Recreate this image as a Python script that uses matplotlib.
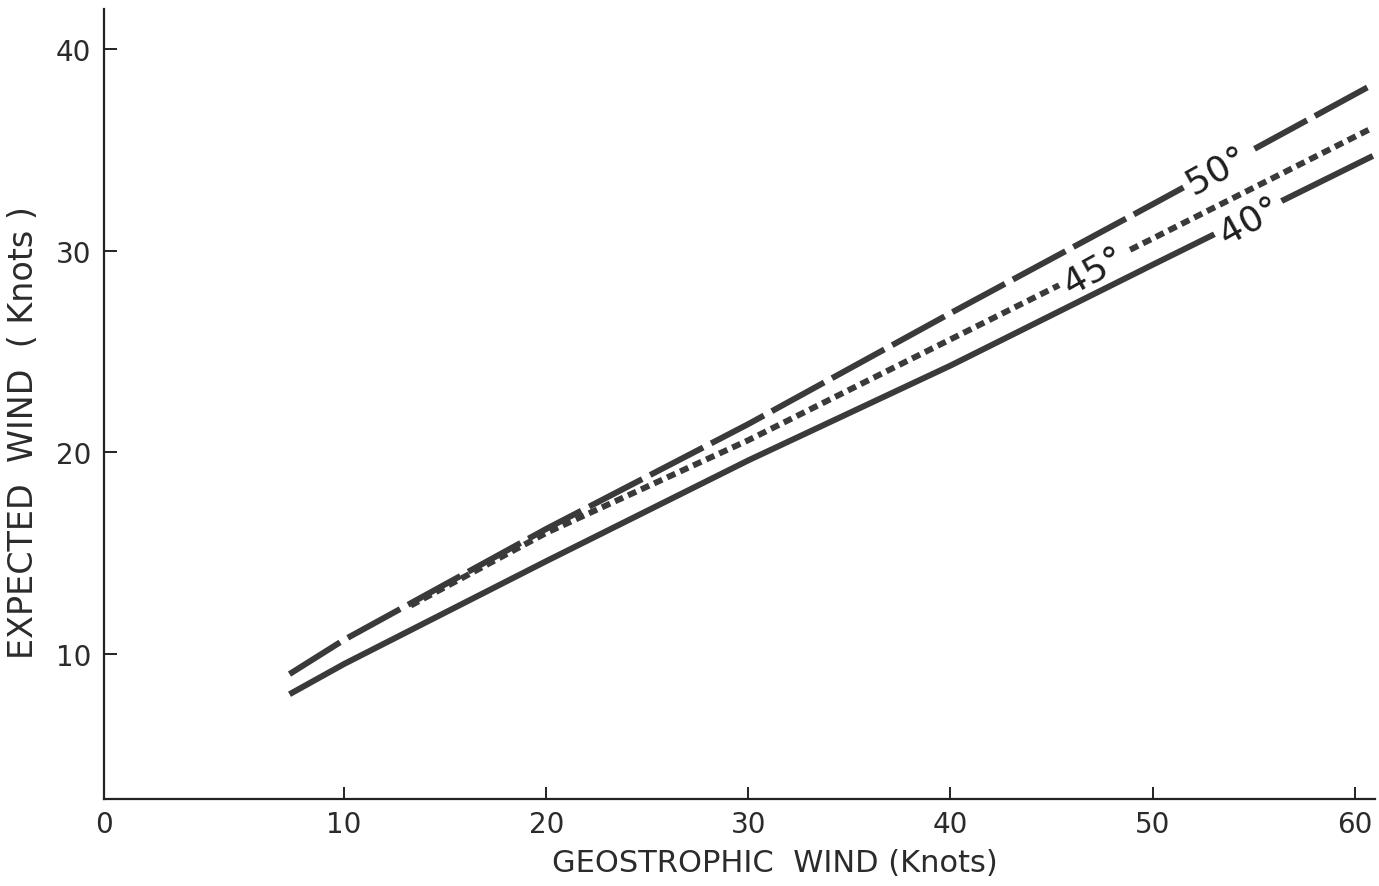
import matplotlib.pyplot as plt

# values (knots)
geo_50 = [7.3, 10, 20, 30, 40, 50, 61.0]
wind_50 = [9.0, 10.7, 16.2, 21.4, 26.9, 32.3, 38.3]

geo_45 = [13.3, 20, 30, 40, 50, 60.7]
wind_45 = [12.4, 16.0, 20.6, 25.6, 30.6, 36.0]

geo_40 = [7.3, 10, 20, 30, 40, 50, 60.9]
wind_40 = [8.0, 9.5, 14.6, 19.6, 24.3, 29.3, 34.7]

x_ticks = [10, 20, 30, 40, 50, 60]
y_ticks = [10, 20, 30, 40]

plt.rcParams['font.family'] = ['DejaVu Sans']
ink = '#3a3a3a'
txt = '#2b2b2b'

fig = plt.figure(figsize=(13.79, 8.87), dpi=100)
ax = fig.add_axes([0.0754, 0.098, 0.9216, 0.891])

ax.plot(geo_50, wind_50, color=ink, lw=4.3, dashes=(10, 1.5), solid_capstyle='butt', dash_capstyle='butt')
ax.plot(geo_45, wind_45, color=ink, lw=4.3, dashes=(1.5, 0.9), dash_capstyle='butt')
ax.plot(geo_40, wind_40, color=ink, lw=4.3, solid_capstyle='butt')

# curve labels, a tight white box cuts the gap in each line
lab = dict(fontsize=26, color='#1e1e1e', rotation=29, rotation_mode='anchor',
           ha='center', va='center', zorder=5,
           bbox=dict(boxstyle='square,pad=-0.17', facecolor='white', edgecolor='none'))
ax.text(53.2, 33.95, ' 50° ', **lab)
ax.text(47.1, 29.0, ' 45° ', **lab)
ax.text(54.8, 31.5, ' 40° ', **lab)

ax.set_xlim(-1.88, 61.0)
ax.set_ylim(2.8, 42.0)
ax.set_xticks([-1.88] + x_ticks, ['0'] + [str(v) for v in x_ticks])
ax.set_yticks(y_ticks)

for s in ['top', 'right']:
    ax.spines[s].set_visible(False)
for s in ['left', 'bottom']:
    ax.spines[s].set_linewidth(1.6)
    ax.spines[s].set_color('#222222')

ax.tick_params(direction='in', length=9, width=1.4, colors='#222222', labelsize=20, labelcolor=txt)
ax.tick_params(axis='x', pad=8)
ax.tick_params(axis='y', pad=9)

ax.set_xlabel('GEOSTROPHIC  WIND (Knots)', fontsize=22, color=txt)
ax.xaxis.set_label_coords(0.528, -0.062)
ax.set_ylabel('EXPECTED  WIND  ( Knots )', fontsize=24, color=txt)
ax.yaxis.set_label_coords(-0.05, 0.465)

fig.savefig('out.png', dpi=100)
